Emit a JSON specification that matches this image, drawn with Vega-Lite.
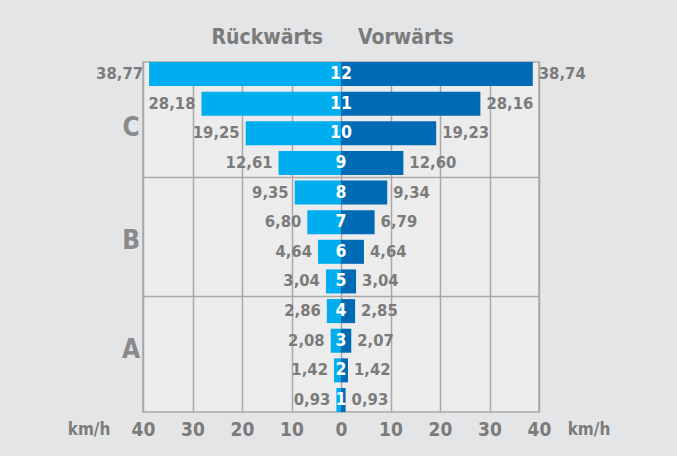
{
  "$schema": "https://vega.github.io/schema/vega-lite/v6.json",
  "width": 396,
  "height": 350,
  "autosize": {"type": "none"},
  "padding": {"left": 143, "top": 62, "right": 138, "bottom": 44},
  "background": "#e4e5e7",
  "config": {
    "locale": {
      "number": {"decimal": ",", "thousands": ".", "grouping": [3], "currency": ["", " €"], "minus": ""}
    },
    "view": {"fill": "#ececec", "stroke": "#a9a9a9", "strokeWidth": 1.5},
    "font": "DejaVu Sans Condensed",
    "text": {"font": "DejaVu Sans Condensed", "fontWeight": "bold"}
  },
  "data": {
    "values": [
      {"gang": 12, "richtung": "Rückwärts", "kmh": -38.77},
      {"gang": 11, "richtung": "Rückwärts", "kmh": -28.18},
      {"gang": 10, "richtung": "Rückwärts", "kmh": -19.25},
      {"gang": 9, "richtung": "Rückwärts", "kmh": -12.61},
      {"gang": 8, "richtung": "Rückwärts", "kmh": -9.35},
      {"gang": 7, "richtung": "Rückwärts", "kmh": -6.80},
      {"gang": 6, "richtung": "Rückwärts", "kmh": -4.64},
      {"gang": 5, "richtung": "Rückwärts", "kmh": -3.04},
      {"gang": 4, "richtung": "Rückwärts", "kmh": -2.86},
      {"gang": 3, "richtung": "Rückwärts", "kmh": -2.08},
      {"gang": 2, "richtung": "Rückwärts", "kmh": -1.42},
      {"gang": 1, "richtung": "Rückwärts", "kmh": -0.93},
      {"gang": 12, "richtung": "Vorwärts", "kmh": 38.74},
      {"gang": 11, "richtung": "Vorwärts", "kmh": 28.16},
      {"gang": 10, "richtung": "Vorwärts", "kmh": 19.23},
      {"gang": 9, "richtung": "Vorwärts", "kmh": 12.60},
      {"gang": 8, "richtung": "Vorwärts", "kmh": 9.34},
      {"gang": 7, "richtung": "Vorwärts", "kmh": 6.79},
      {"gang": 6, "richtung": "Vorwärts", "kmh": 4.64},
      {"gang": 5, "richtung": "Vorwärts", "kmh": 3.04},
      {"gang": 4, "richtung": "Vorwärts", "kmh": 2.85},
      {"gang": 3, "richtung": "Vorwärts", "kmh": 2.07},
      {"gang": 2, "richtung": "Vorwärts", "kmh": 1.42},
      {"gang": 1, "richtung": "Vorwärts", "kmh": 0.93}
    ]
  },
  "resolve": {"axis": {"x": "independent", "y": "independent"}},
  "encoding": {
    "y": {
      "field": "gang",
      "type": "ordinal",
      "sort": "descending",
      "scale": {"paddingInner": 0.19, "paddingOuter": 0},
      "axis": null
    }
  },
  "layer": [
    {
      "mark": {"type": "bar", "opacity": 1, "fillOpacity": 1},
      "encoding": {
        "x": {
          "field": "kmh",
          "type": "quantitative",
          "scale": {"domain": [-40, 40], "nice": false, "zero": false},
          "axis": {
            "orient": "bottom",
            "values": [-40, -30, -20, -10, 0, 10, 20, 30, 40],
            "format": "d",
            "title": null,
            "domain": false,
            "ticks": false,
            "tickSize": 0,
            "labelPadding": 8,
            "labelFont": "DejaVu Sans Condensed",
            "labelFontWeight": "bold",
            "labelFontSize": 19,
            "labelColor": "#7b7b7b",
            "labelFlush": false,
            "grid": true,
            "gridColor": "#a9a9a9",
            "gridWidth": 1.5,
            "zindex": 0
          }
        },
        "y": {
          "field": "gang",
          "type": "ordinal",
          "sort": "descending",
          "axis": {
            "values": [8, 4],
            "bandPosition": -0.117,
            "grid": true,
            "gridColor": "#a9a9a9",
            "gridWidth": 1.5,
            "labels": false,
            "ticks": false,
            "domain": false,
            "title": null,
            "zindex": 0
          }
        },
        "color": {
          "field": "richtung",
          "type": "nominal",
          "scale": {"domain": ["Rückwärts", "Vorwärts"], "range": ["#00adee", "#006bb5"]},
          "legend": null
        }
      }
    },
    {
      "mark": {"type": "text", "opacity": 0},
      "encoding": {
        "x": {
          "field": "kmh",
          "type": "quantitative",
          "axis": {
            "orient": "top",
            "values": [-15, 13],
            "labelExpr": "datum.value < 0 ? 'Rückwärts' : 'Vorwärts'",
            "title": null,
            "domain": false,
            "ticks": false,
            "tickSize": 0,
            "grid": false,
            "labelPadding": 15,
            "labelFont": "DejaVu Sans Condensed",
            "labelFontWeight": "bold",
            "labelFontSize": 21,
            "labelColor": "#7b7b7b",
            "zindex": 0
          }
        },
        "text": {"value": ""}
      }
    },
    {
      "transform": [{"filter": "datum.richtung === 'Rückwärts'"}],
      "mark": {"type": "text", "align": "right", "baseline": "middle", "dx": -6, "fontSize": 16.5, "color": "#7b7b7b"},
      "encoding": {
        "x": {"field": "kmh", "type": "quantitative", "axis": null},
        "text": {"field": "kmh", "type": "quantitative", "format": ".2f"}
      }
    },
    {
      "transform": [{"filter": "datum.richtung === 'Vorwärts'"}],
      "mark": {"type": "text", "align": "left", "baseline": "middle", "dx": 6, "fontSize": 16.5, "color": "#7b7b7b"},
      "encoding": {
        "x": {"field": "kmh", "type": "quantitative", "axis": null},
        "text": {"field": "kmh", "type": "quantitative", "format": ".2f"}
      }
    },
    {
      "transform": [{"filter": "datum.richtung === 'Vorwärts'"}],
      "mark": {"type": "text", "align": "center", "baseline": "middle", "fontSize": 17.5, "color": "#ffffff"},
      "encoding": {
        "x": {"datum": 0, "type": "quantitative", "axis": null},
        "text": {"field": "gang", "type": "ordinal"}
      }
    },
    {
      "data": {"values": [{"gruppe": "C", "gang": 10}]},
      "mark": {"type": "text", "align": "center", "baseline": "middle", "dy": -5, "fontSize": 26, "color": "#8a8a8a"},
      "encoding": {
        "x": {"datum": -42.4, "type": "quantitative", "axis": null},
        "y": {"field": "gang", "type": "ordinal", "sort": "descending", "axis": null},
        "text": {"field": "gruppe"}
      }
    },
    {
      "data": {"values": [{"gruppe": "B", "gang": 7}]},
      "mark": {"type": "text", "align": "center", "baseline": "middle", "dy": 19, "fontSize": 26, "color": "#8a8a8a"},
      "encoding": {
        "x": {"datum": -42.4, "type": "quantitative", "axis": null},
        "y": {"field": "gang", "type": "ordinal", "sort": "descending", "axis": null},
        "text": {"field": "gruppe"}
      }
    },
    {
      "data": {"values": [{"gruppe": "A", "gang": 3}]},
      "mark": {"type": "text", "align": "center", "baseline": "middle", "dy": 9.5, "fontSize": 26, "color": "#8a8a8a"},
      "encoding": {
        "x": {"datum": -42.4, "type": "quantitative", "axis": null},
        "y": {"field": "gang", "type": "ordinal", "sort": "descending", "axis": null},
        "text": {"field": "gruppe"}
      }
    },
    {
      "data": {"values": [{"einheit": "km/h", "gang": 1, "seite": -50.9}, {"einheit": "km/h", "gang": 1, "seite": 50.1}]},
      "mark": {"type": "text", "align": "center", "baseline": "alphabetic", "dy": 35, "fontSize": 17, "color": "#7b7b7b"},
      "encoding": {
        "x": {"field": "seite", "type": "quantitative", "axis": null},
        "y": {"field": "gang", "type": "ordinal", "sort": "descending", "axis": null},
        "text": {"field": "einheit"}
      }
    }
  ]
}
